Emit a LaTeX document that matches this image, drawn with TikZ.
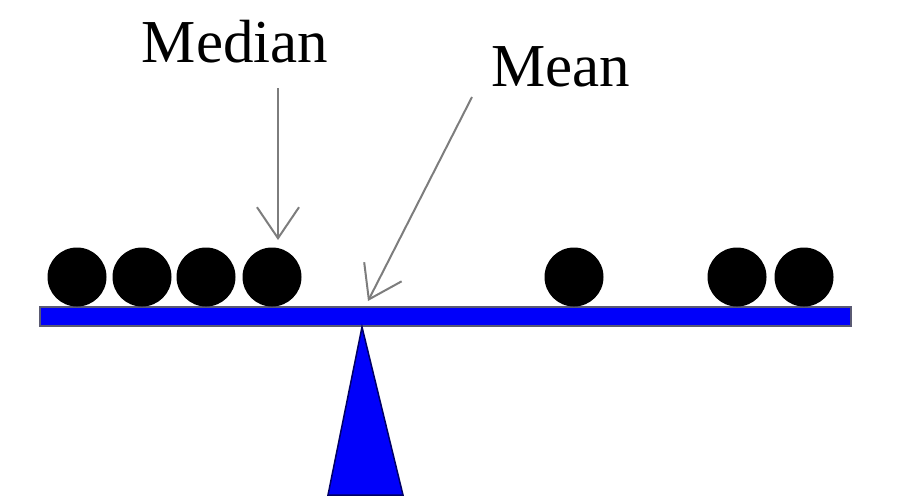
\documentclass[tikz,border=0pt]{standalone}
\usepackage{fontspec}
\setmainfont{Liberation Serif}
\usetikzlibrary{arrows.meta}
\definecolor{beamblue}{RGB}{0,0,250}
\definecolor{beamedge}{RGB}{90,90,115}
\definecolor{arrowgray}{RGB}{125,125,125}
\begin{document}
\begin{tikzpicture}[x=1pt,y=-1pt,
  ball/.style={circle,fill=black,inner sep=0pt,minimum size=59pt},
  label/.style={font=\fontsize{61}{61}\selectfont,inner sep=0pt,anchor=base},
  pointer/.style={draw=arrowgray,line width=2pt,-{Straight Barb[length=31pt,width=42pt,line width=2pt]}}]
\useasboundingbox (0,0) rectangle (909,498);
% beam
\node[draw=beamedge,fill=beamblue,line width=2pt,rectangle,inner sep=0pt,minimum width=811pt,minimum height=19pt] (beam) at (445.5,316.5) {};
% fulcrum
\path[fill=beamblue,draw=black!60!blue,line width=1.5pt] (362,327) -- (403,495) -- (328,495) -- cycle;
\coordinate (fulcrum) at (362,327);
% balls
\node[ball] (b1) at (77,277) {};
\node[ball] (b2) at (142,277) {};
\node[ball] (b3) at (206,277) {};
\node[ball] (b4) at (272,277) {};
\node[ball] (b5) at (574,277) {};
\node[ball] (b6) at (737,277) {};
\node[ball] (b7) at (804,277) {};
% labels
\node[label] (median) at (235,62) {Median};
\node[label] (mean) at (561,86) {Mean};
\coordinate (medtip) at (278,240);
\coordinate (meantip) at (368,301);
\draw[pointer] (278,88) -- (medtip);
\draw[pointer] (472,97) -- (meantip);
\end{tikzpicture}
\end{document}
